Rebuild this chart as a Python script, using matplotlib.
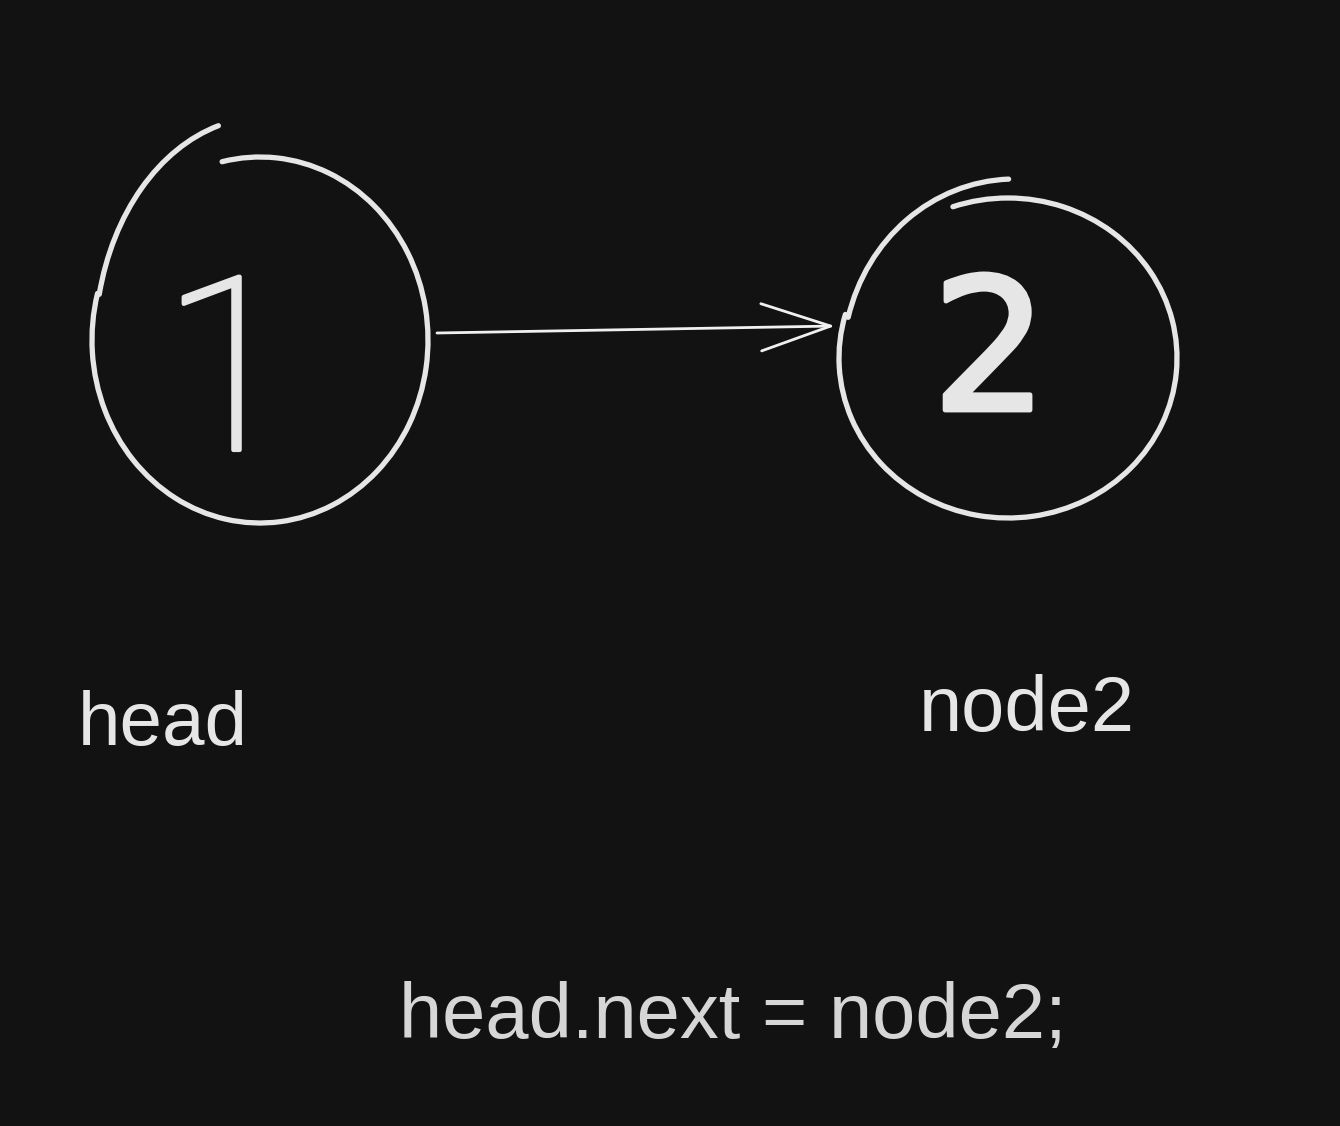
import matplotlib

matplotlib.use("Agg")
import matplotlib.pyplot as plt
from matplotlib import patheffects
from matplotlib.patches import Arc

# 数据：节点值、节点名、代码行
node_values = ["1", "2"]
node_names = ["head", "node2"]
code_line = "head.next = node2;"

BG = "#121212"
INK = "#e6e6e6"
W, H = 1340, 1126

fig = plt.figure(figsize=(W / 100, H / 100), dpi=100, facecolor=BG)
ax = fig.add_axes([0, 0, 1, 1])
ax.set_facecolor(BG)
ax.set_xlim(0, W)
ax.set_ylim(H, 0)
ax.axis("off")

# 手绘风格的圆：主弧 + 一段重叠的笔画
outline = dict(color=INK, lw=3.8, capstyle="round")
# node 1
ax.add_patch(Arc((260, 340), 336, 366, theta1=258, theta2=556, **outline))
ax.add_patch(Arc((265, 345), 340, 456, theta1=197, theta2=258, **outline))
# node 2
ax.add_patch(Arc((1008, 358), 338, 320, theta1=250, theta2=555, **outline))
ax.add_patch(Arc((1015, 362), 344, 366, theta1=195, theta2=268, **outline))

# 节点内的数字（加描边，模拟手写笔画的粗细）
thick = [patheffects.withStroke(linewidth=3, foreground=INK)]
ax.text(228, 450, node_values[0], color=INK, fontsize=175, family="Roboto",
        fontweight="light", ha="center", va="baseline", path_effects=thick)
thick2 = [patheffects.withStroke(linewidth=3.5, foreground=INK)]
ax.text(990, 410, node_values[1], color=INK, fontsize=132, family="DejaVu Sans",
        ha="center", va="baseline", path_effects=thick2)

# 箭头 head -> node2
ax.annotate("", xy=(835, 326), xytext=(437, 333),
            arrowprops=dict(arrowstyle="->,head_length=2.5,head_width=0.85",
                            color="#f0f0f0", lw=2.0, mutation_scale=20,
                            shrinkA=0, shrinkB=0))

# 节点名
ax.text(78, 745, node_names[0], color=INK, fontsize=55, family="Liberation Sans",
        ha="left", va="baseline")
ax.text(919, 731, node_names[1], color=INK, fontsize=56, family="Liberation Sans",
        ha="left", va="baseline")

# 代码
ax.text(399, 1038, code_line, color="#d6d6d6", fontsize=56, family="Liberation Sans",
        ha="left", va="baseline")

fig.savefig("out.png", dpi=100, facecolor=BG)
